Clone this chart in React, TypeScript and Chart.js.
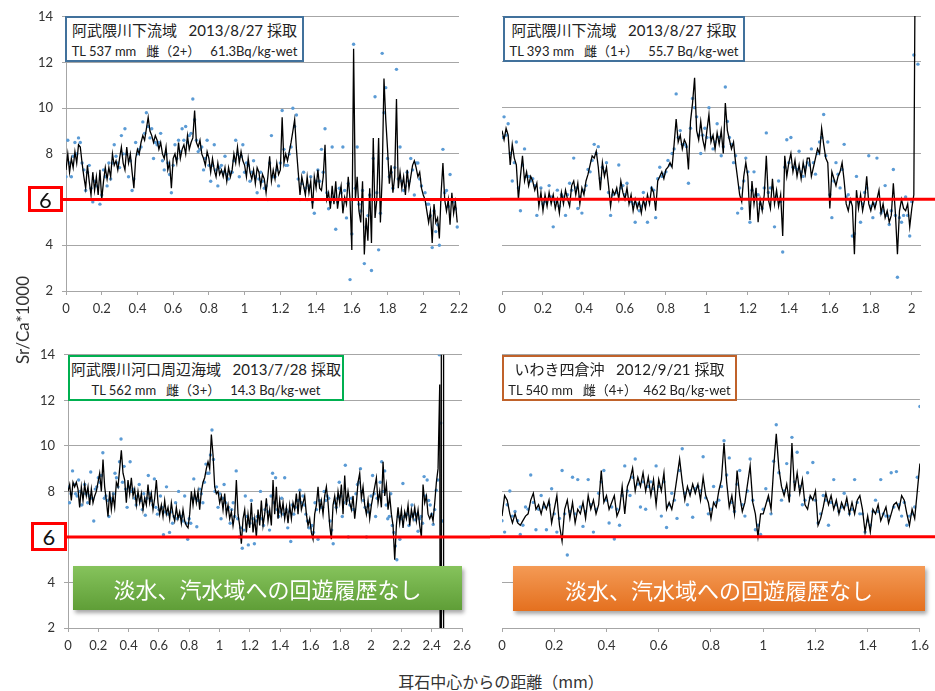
import React, { useEffect, useRef } from "react";
import { Chart, registerables } from "chart.js";

Chart.register(...registerables);

// ---------- shared axis values ----------
const Y_MIN = 2;
const Y_MAX = 14;
const Y_STEP = 2;
const X_TICK_STEP = 0.2;
const THRESHOLD = 6;
const DOT_X0 = 0.01;
const DOT_B_X0 = 0;
const DOT_STEP = 0.02;

// ---------- panel 1 : 阿武隈川下流域 TL 537 mm ----------
const P1_X_MAX = 2.2;
const P1_LINE_STEP = 0.01;
const P1_LINE = [
  7.3, 8.0, 7.2, 7.8, 7.4, 8.1, 7.6, 8.4, 8.3, 7.6,
  7.0, 6.5, 7.5, 6.8, 6.2, 7.2, 6.4, 7.0, 6.2, 7.3,
  6.0, 6.8, 7.4, 6.9, 7.4, 7.0, 8.0, 7.5, 7.7, 7.3,
  7.8, 8.3, 7.6, 7.3, 8.3, 7.6, 8.0, 7.2, 6.5, 7.8,
  8.2, 8.0, 8.5, 8.8, 8.6, 9.1, 9.6, 9.0, 8.8, 8.5,
  8.8, 8.6, 8.2, 8.5, 8.0, 7.8, 8.3, 7.3, 7.6, 6.5,
  7.8, 8.0, 7.6, 8.5, 7.8, 8.2, 8.4, 8.0, 8.8, 8.2,
  8.5, 8.7, 9.9, 8.5, 8.3, 8.6, 8.0, 7.8, 7.5, 8.1,
  7.8, 7.2, 7.8, 7.3, 7.0, 7.6, 7.1, 7.3, 7.0, 7.4,
  6.8, 7.4, 7.0, 7.3, 8.0, 7.6, 8.3, 7.6, 8.1, 7.7,
  7.5, 7.0, 7.8, 7.2, 6.9, 7.3, 6.7, 7.4, 7.2, 6.6,
  7.1, 6.9, 6.3, 7.0, 7.9, 6.8, 7.3, 6.9, 7.6, 7.1,
  7.3, 9.6, 7.6, 8.0, 7.7, 8.1, 8.5, 9.0, 9.5, 8.2,
  7.2, 6.2, 7.0, 6.6, 6.2, 7.0, 6.3, 6.8, 5.6, 7.0,
  6.5, 7.3, 6.5, 6.4, 7.0, 8.4, 6.0, 6.3, 5.6, 6.6,
  5.8, 6.8, 5.6, 6.2, 6.6, 5.4, 6.1, 5.8, 7.0, 6.0,
  3.8, 12.6, 6.0, 7.0, 5.5, 5.0, 6.8, 3.6, 5.2, 4.2,
  6.5, 4.1, 8.7, 5.2, 6.0, 8.7, 5.0, 7.0, 11.3, 9.5,
  8.2, 6.7, 7.5, 6.3, 7.0, 10.4, 6.5, 7.2, 6.5, 7.0,
  6.2, 7.3, 6.5, 7.0, 7.5, 7.7, 7.4, 7.0, 7.2, 6.5,
  6.2, 6.0, 5.5, 5.0, 5.5, 4.1, 5.8, 5.0, 5.2, 4.3,
  6.3, 7.6, 6.0, 5.5, 6.0, 4.9, 6.3, 5.4, 5.9, 5.0,
];
const P1_DOTS = [
  8.6, 7.0, 8.5, 8.7, 7.6, 6.4, 7.5, 5.9, 6.6, 5.8,
  7.3, 6.6, 6.9, 8.4, 7.6, 8.8, 9.1, 7.0, 6.4, 8.5,
  8.2, 9.4, 9.8, 8.7, 7.8, 8.4, 8.9, 7.3, 7.6, 6.3,
  8.4, 8.6, 9.1, 9.2, 8.8, 10.4, 8.6, 8.2, 7.3, 8.6,
  6.8, 8.4, 6.6, 7.5, 7.9, 6.9, 7.2, 8.6, 7.0, 8.4,
  7.6, 6.8, 7.7, 6.3, 7.2, 6.5, 6.0, 8.8, 7.0, 6.6,
  9.9, 7.5, 8.0, 10.0, 9.7, 6.0, 7.2, 6.0, 7.0, 5.4,
  7.3, 8.2, 9.1, 5.6, 8.3, 4.7, 6.5, 8.3, 5.2, 2.5,
  12.8, 8.3, 5.5, 3.2, 5.3, 2.9, 10.5, 3.8, 12.4, 10.9,
  7.0, 6.5, 11.7, 8.3, 6.4, 7.2, 7.8, 6.2, 7.6, 6.6,
  6.3, 5.8, 3.9, 4.6, 4.0, 8.2, 6.4, 7.1, 5.9, 4.8,
];
const P1_DOTS_B = [
  7.0, 7.6, 7.9, 8.0, 8.5, 7.3, 7.2, 6.5, 6.8, 6.0,
  6.2, 7.0, 7.6, 7.6, 7.9, 7.4, 8.0, 8.0, 7.7, 6.9,
  8.0, 8.3, 8.9, 9.2, 9.1, 8.5, 8.5, 7.7, 8.0, 7.1,
  7.5, 7.8, 8.1, 8.6, 8.5, 8.9, 9.5, 8.1, 8.3, 7.8,
  7.5, 7.5, 7.3, 7.4, 7.2, 7.1, 7.2, 7.7, 8.0, 7.9,
  7.2, 7.5, 7.2, 7.0, 6.9, 6.8, 6.6, 7.6, 7.0, 7.3,
  7.6, 8.2, 7.5, 8.3, 9.2, 6.9, 6.7, 6.5, 6.6, 5.9,
  6.8, 6.8, 7.2, 6.3, 5.9, 6.1, 5.9, 6.3, 6.4, 6.7,
  4.5, 6.5, 5.8, 6.4, 4.8, 6.2, 7.8, 6.3, 5.4, 9.8,
  7.8, 7.2, 7.4, 6.9, 6.8, 6.6, 6.8, 7.3, 7.6, 6.9,
  6.0, 5.8, 5.3, 5.5, 4.9, 6.0, 6.3, 5.7, 6.0, 5.6,
];

// ---------- panel 2 : 阿武隈川下流域 TL 393 mm ----------
const P2_X_MAX = 2.045;
const P2_LINE_STEP = 0.01;
const P2_LINE = [
  9.0, 8.6, 9.1, 8.8, 7.5, 8.4, 7.8, 7.5, 6.0, 7.0,
  7.9, 6.8, 7.2, 6.6, 7.0, 6.8, 6.4, 6.7, 5.7, 6.3,
  5.5, 6.2, 5.7, 6.3, 5.8, 6.2, 5.6, 6.0, 5.4, 6.3,
  5.8, 6.4, 6.0, 5.7, 6.6, 6.8, 6.2, 6.7, 5.8, 6.5,
  6.2, 6.8, 7.1, 7.5, 7.9, 7.8, 8.1, 7.4, 6.4, 7.6,
  7.0, 7.4, 6.6, 5.7, 6.4, 6.2, 6.5, 6.0, 6.8, 6.3,
  6.0, 6.5, 5.8, 6.2, 5.5, 6.0, 5.6, 5.9, 5.4, 6.0,
  5.6, 6.2, 5.8, 6.5, 6.3, 5.5, 6.8, 7.0, 7.2, 6.9,
  7.3, 7.4, 7.6, 7.4, 8.4, 9.5, 8.5, 8.8, 8.2, 8.6,
  8.4, 7.3, 9.4, 10.2, 11.3, 9.0, 8.6, 9.4, 8.6, 8.2,
  9.0, 9.7, 8.5, 8.8, 8.2, 8.9, 8.4, 9.0, 8.0, 10.2,
  9.0, 8.6, 8.2, 8.5, 7.6, 6.9, 6.2, 5.9, 7.0, 7.6,
  7.0, 5.1, 6.8, 5.8, 6.5, 5.0, 6.0, 5.5, 6.2, 7.9,
  6.0, 5.6, 6.9, 5.8, 6.4, 5.7, 6.2, 4.4, 7.9, 7.0,
  7.6, 8.0, 7.2, 7.7, 7.0, 7.5, 6.9, 7.6, 7.1, 7.8,
  7.8, 7.0, 7.4, 7.8, 8.2, 8.0, 9.1, 8.4, 7.8, 7.6,
  5.6, 7.2, 6.9, 6.6, 7.0, 7.2, 7.6, 6.8, 5.8, 5.5,
  6.0, 5.7, 3.6, 6.4, 5.6, 6.2, 5.5, 6.0, 7.0, 5.8,
  5.5, 5.9, 5.6, 6.0, 6.4, 5.4, 5.8, 5.2, 5.5, 5.0,
  5.3, 6.7, 5.4, 3.6, 5.5, 6.0, 5.6, 5.5, 5.8, 4.8,
  5.6, 6.2,
];
const P2_LINE_TAIL: [number, number][] = [[2.015, 14]];
const P2_DOTS = [
  9.6, 9.3, 6.8, 8.5, 5.5, 8.2, 7.0, 6.9, 5.3, 6.5,
  5.9, 6.6, 4.8, 6.4, 6.2, 5.3, 6.7, 7.8, 5.6, 5.4,
  6.6, 7.2, 8.4, 8.3, 7.4, 7.6, 5.3, 6.0, 7.5, 6.6,
  6.7, 5.9, 5.0, 5.5, 6.3, 5.0, 6.5, 5.2, 7.4, 7.1,
  7.7, 8.0, 10.6, 9.0, 8.4, 6.7, 10.4, 9.6, 8.0, 9.1,
  10.0, 8.2, 9.3, 7.9, 10.9, 8.7, 7.6, 5.4, 5.6, 7.8,
  5.0, 7.2, 6.2, 5.6, 8.9, 6.5, 4.8, 6.8, 3.7, 8.6,
  8.7, 7.4, 8.1, 7.0, 7.6, 8.2, 7.1, 8.5, 9.7, 8.5,
  5.2, 7.6, 6.5, 8.4, 6.2, 4.4, 7.0, 5.0, 6.3, 7.9,
  5.2, 7.8, 5.4, 6.6, 4.9, 7.3, 2.6, 5.0, 6.1, 4.4,
  12.3, 11.9,
];
const P2_DOTS_B = [
  8.7, 8.8, 8.0, 7.6, 6.5, 7.5, 7.0, 6.8, 6.6, 6.0,
  5.8, 6.0, 6.1, 5.9, 5.7, 6.1, 6.2, 6.4, 6.5, 6.1,
  6.4, 7.3, 7.7, 8.0, 6.9, 7.2, 6.3, 6.2, 6.3, 6.5,
  6.2, 6.0, 5.8, 5.8, 5.7, 5.8, 6.0, 6.4, 6.9, 7.0,
  7.2, 7.5, 8.2, 8.7, 8.4, 8.3, 9.1, 10.0, 8.8, 8.8,
  8.7, 8.7, 8.5, 8.7, 8.3, 9.4, 8.4, 7.9, 6.5, 6.8,
  7.2, 6.4, 6.2, 5.8, 6.5, 6.3, 6.5, 6.1, 5.9, 7.4,
  7.6, 7.4, 7.3, 7.2, 7.4, 7.5, 7.6, 8.0, 8.7, 7.9,
  6.2, 6.8, 7.1, 7.3, 6.1, 5.9, 4.5, 5.9, 5.8, 6.5,
  5.7, 5.8, 6.0, 5.5, 5.3, 5.5, 5.3, 5.2, 5.3, 5.3,
  5.9,
];

// ---------- panel 3 : 阿武隈川河口周辺海域 TL 562 mm ----------
const P3_X_MAX = 2.6;
const P3_LINE_STEP = 0.011;
const P3_LINE = [
  8.0, 8.3, 7.6, 8.4, 8.2, 8.4, 8.1, 7.3, 8.2, 7.6,
  8.3, 7.8, 8.2, 7.4, 8.1, 7.5, 7.8, 8.0, 8.4, 8.8,
  8.0, 9.4, 8.2, 7.6, 6.9, 8.0, 7.2, 7.8, 7.3, 8.4,
  8.2, 9.0, 9.8, 8.8, 8.5, 7.5, 8.5, 7.9, 8.6, 7.8,
  8.1, 7.4, 8.0, 7.5, 7.9, 7.2, 7.7, 7.4, 8.3, 7.5,
  7.9, 7.2, 7.7, 8.5, 7.5, 7.0, 7.4, 6.9, 7.6, 7.0,
  7.3, 6.8, 7.5, 7.0, 6.7, 7.3, 6.8, 7.1, 6.6, 7.2,
  6.7, 6.5, 6.4, 7.0, 8.0, 7.4, 8.0, 7.5, 8.0, 7.2,
  8.0, 8.4, 8.6, 9.0, 9.3, 9.0, 10.5, 9.6, 8.2, 7.9,
  8.0, 7.5, 7.8, 7.2, 7.9, 7.0, 7.4, 6.8, 7.1, 6.5,
  7.0, 8.5, 7.0, 6.5, 5.7, 6.8, 7.2, 6.2, 7.0, 6.4,
  7.5, 6.2, 6.8, 6.0, 7.2, 6.5, 7.6, 6.5,
  7.0, 7.7, 6.7, 7.2, 6.5, 8.5, 7.0, 8.2, 6.8, 7.6,
  7.0, 7.5, 6.8, 7.3, 6.6, 7.4, 6.8, 7.5, 7.2, 7.9,
  7.0, 8.0, 7.2, 7.5, 7.8, 7.0, 6.5, 6.8, 6.2, 5.9,
  7.0, 7.4, 8.2, 7.2, 7.6, 7.0, 7.8, 8.2, 7.5, 6.5,
  5.9, 7.4, 7.8, 7.2, 8.0, 7.5, 8.3, 7.0, 8.7, 7.4,
  8.0, 7.5, 7.2, 7.8, 6.8, 7.5, 8.4, 8.8, 7.7, 8.2,
  7.4, 7.0, 7.6, 6.8, 7.4, 7.8, 8.2, 8.6, 7.5, 8.0,
  7.3, 9.3, 7.8, 8.3, 7.2, 7.8, 7.0, 6.5, 5.0, 6.5,
  7.3, 6.6, 7.2, 6.4, 7.1, 6.8, 7.4, 6.5, 7.2, 6.8,
  7.3, 6.7, 7.2, 6.5, 6.0, 8.3, 7.5, 7.8, 7.0, 6.8,
  7.0, 6.7, 7.5, 8.4, 9.0,
];
const P3_LINE_TAIL: [number, number][] = [
  [2.453, 12.7], [2.463, -30], [2.4635, 40], [2.478, 40], [2.4785, -30],
];
const P3_DOTS = [
  7.5, 8.9, 7.9, 8.5, 7.4, 8.3, 7.5, 8.85, 6.7, 8.2,
  8.4, 9.7, 7.8, 6.9, 7.6, 8.8, 8.2, 10.3, 9.1, 7.3,
  9.3, 8.1, 7.4, 8.3, 7.2, 6.95, 8.7, 7.6, 8.55, 7.0,
  7.8, 6.1, 8.2, 6.2, 6.6, 7.5, 8.0, 6.9, 7.8, 5.9,
  6.6, 8.55, 6.45, 8.1, 7.5, 9.2, 8.8, 10.7, 8.0, 7.3,
  6.8, 8.3, 7.2, 6.6, 7.5, 8.9, 6.0, 5.5, 7.8, 5.65,
  7.6, 5.7, 6.9, 8.0, 6.5, 7.4, 6.3, 8.8, 8.6, 6.9,
  7.7, 8.6, 6.4, 5.8, 7.0, 7.6, 8.05, 7.8, 7.0, 6.4,
  6.5, 7.5, 5.9, 7.3, 8.0, 7.8, 6.7, 5.7, 7.3, 8.4,
  6.9, 9.15, 6.0, 7.7, 7.2, 8.3, 9.0, 7.6, 6.0, 7.4,
  8.7, 6.9, 7.8, 9.3, 8.9, 6.8, 7.9, 6.2, 5.0, 5.9,
  8.35, 7.0, 6.5, 7.4, 6.75, 6.25, 6.9, 8.65, 8.5, 7.4,
  6.55, 8.05, 14.0, 6.7,
];
const P3_DOTS_B = [
  8.2, 7.9, 8.3, 7.8, 8.0, 7.9, 7.9, 7.8, 7.7, 8.1,
  8.6, 8.7, 7.7, 7.6, 7.7, 7.9, 8.6, 9.3, 8.4, 8.1,
  8.2, 8.0, 7.7, 7.8, 7.6, 7.9, 7.7, 7.9, 7.4, 7.3,
  7.2, 7.3, 7.1, 7.0, 7.1, 6.9, 6.8, 6.9, 6.7, 6.6,
  6.8, 7.7, 7.7, 7.6, 7.9, 8.4, 8.8, 9.6, 9.4, 8.2,
  7.9, 7.7, 7.5, 7.3, 7.2, 6.9, 6.8, 6.4, 6.3, 6.9,
  6.6, 6.8, 6.7, 6.9, 6.8, 7.2, 7.1, 7.8, 7.5, 7.2,
  7.1, 7.0, 7.2, 7.1, 7.4, 7.3, 7.6, 7.5, 7.4, 6.7,
  6.4, 6.2, 7.2, 7.6, 7.3, 7.6, 7.7, 6.3, 7.5, 7.7,
  7.8, 7.5, 7.6, 7.4, 7.2, 7.9, 8.4, 8.0, 7.3, 7.1,
  7.8, 7.9, 7.7, 8.4, 8.0, 7.4, 6.9, 6.5, 5.6, 6.9,
  6.8, 6.9, 7.0, 6.9, 7.0, 7.0, 6.8, 6.6, 7.8, 7.6,
  7.0, 7.2, 8.5, 11.0,
];

// ---------- panel 4 : いわき四倉沖 TL 540 mm ----------
const P4_X_MAX = 1.6;
const P4_LINE_STEP = 0.01;
const P4_LINE = [
  6.9, 7.8, 7.6, 7.0, 6.6, 7.0, 6.6, 6.5, 6.7, 6.9,
  7.0, 7.6, 7.9, 7.2, 7.4, 7.0, 7.5, 7.2, 7.6, 6.6,
  7.2, 7.8, 6.5, 5.8, 7.2, 7.6, 6.8, 7.5, 6.6, 7.2,
  7.0, 7.5, 6.8, 7.8, 7.2, 7.6, 7.0, 7.4, 8.9, 7.5,
  7.8, 7.2, 7.5, 7.8, 6.9, 7.2, 8.2, 7.0, 8.2, 8.5,
  9.0, 8.0, 8.6, 8.2, 8.8, 8.0, 8.6, 7.8, 8.5, 7.4,
  8.5, 8.0, 8.8, 7.2, 7.5, 7.2, 7.8, 8.6, 9.4, 8.4,
  7.6, 8.2, 7.8, 8.3, 7.9, 8.3, 7.6, 8.6, 7.8, 7.5,
  6.8, 7.5, 7.3, 8.0, 8.5, 10.1, 8.4, 7.3, 7.8, 7.0,
  8.9, 7.8, 7.1, 7.5, 8.3, 9.1, 7.5, 7.0, 6.0, 7.0,
  7.0, 7.4, 7.8, 7.2, 9.0, 10.5, 9.0, 8.2, 7.8, 8.3,
  7.5, 10.1, 8.0, 8.8, 7.9, 8.5, 7.4, 7.2, 7.8, 7.6,
  8.0, 6.5, 6.8, 7.3, 7.9, 7.4, 7.8, 7.2, 7.6, 7.0,
  7.5, 7.2, 7.7, 7.0, 7.5, 7.0, 7.6, 7.8, 7.2, 6.2,
  6.9, 6.2, 7.2, 7.0, 7.4, 6.7, 7.0, 7.3, 6.6, 7.0,
  7.4, 7.5, 7.2, 7.8, 7.6, 7.0, 6.5, 7.2, 6.8, 8.0,
  9.2,
];
const P4_DOTS = [
  6.2, 8.0, 7.1, 6.1, 7.3, 8.7, 6.3, 7.8, 6.3, 8.1,
  6.2, 8.9, 5.2, 8.6, 8.5, 6.45, 8.5, 6.2, 7.9, 8.9,
  6.6, 5.9, 6.5, 9.1, 7.8, 9.4, 7.3, 7.2, 8.4, 9.1,
  6.9, 6.4, 7.9, 6.8, 9.85, 7.4, 6.85, 8.2, 9.5, 7.0,
  8.2, 7.6, 10.2, 9.45, 7.1, 8.9, 6.9, 9.4, 6.3, 6.1,
  8.1, 7.0, 10.9, 7.6, 9.2, 10.35, 9.7, 7.4, 8.8, 9.25,
  6.6, 7.8, 6.5, 8.5, 7.1, 7.9, 7.0, 8.5, 7.0, 6.2,
  6.5, 7.6, 8.5, 6.9, 8.8, 8.85, 6.9, 6.5, 7.0, 8.6,
];
const P4_DOTS_B = [
  6.7, 7.4, 6.9, 6.7, 6.5, 7.2, 7.5, 7.2, 7.3, 7.4,
  7.0, 6.8, 7.0, 7.1, 7.0, 7.3, 7.1, 7.4, 7.2, 8.4,
  7.6, 7.3, 7.2, 7.8, 8.0, 8.6, 8.3, 8.4, 8.2, 8.1,
  8.2, 8.4, 7.4, 7.6, 8.9, 7.9, 8.0, 8.1, 8.0, 7.7,
  7.2, 7.5, 8.2, 8.7, 7.5, 8.3, 7.4, 8.0, 7.6, 6.5,
  7.2, 7.6, 9.3, 8.8, 8.0, 7.8, 8.4, 8.2, 7.6, 7.7,
  7.6, 7.0, 7.6, 7.5, 7.4, 7.3, 7.4, 7.2, 7.5, 7.0,
  6.7, 7.1, 7.1, 7.0, 6.9, 7.3, 7.4, 7.5, 6.9, 7.3,
];
const P4_DOTS_EXTRA: [number, number][] = [[1.6, 11.7]];

// ---------- texts ----------
const Y_TITLE = "Sr/Ca*1000";
const X_TITLE = "耳石中心からの距離（mm）";
const BANNER_TEXT = "淡水、汽水域への回遊履歴なし";

type Pt = { x: number; y: number };
const stepped = (vals: number[], x0: number, step: number): Pt[] =>
  vals.map((y, i) => ({ x: Math.round((x0 + i * step) * 10000) / 10000, y }));
const pairs = (arr: [number, number][]): Pt[] => arr.map(([x, y]) => ({ x, y }));

const LATIN = "Lato, 'Noto Sans CJK JP', sans-serif";
const CJK = "'Noto Sans CJK JP', sans-serif";
const GRID = "#a6a6a6";
const TEXT = "#333333";

const thresholdPlugin = {
  id: "threshold",
  afterDatasetsDraw(chart: any, _a: any, opts: any) {
    const y = chart.scales.y.getPixelForValue(THRESHOLD);
    const ctx = chart.ctx;
    ctx.save();
    ctx.strokeStyle = "#ff0000";
    ctx.lineWidth = 3;
    ctx.beginPath();
    ctx.moveTo(opts.fromAxis ? chart.chartArea.left - 4 : 0, y);
    ctx.lineTo(chart.width, y);
    ctx.stroke();
    ctx.restore();
  },
};

type Rect = { l: number; r: number; t: number; b: number };
interface PanelProps {
  left: number;
  top: number;
  width: number;
  height: number;
  area: Rect;
  yLabels: boolean;
  xMax: number;
  line: Pt[];
  dots: Pt[];
}

function Panel(p: PanelProps) {
  const ref = useRef<HTMLCanvasElement>(null);
  useEffect(() => {
    if (!ref.current) return;
    const X_H = 30;
    const yW = p.yLabels ? p.area.l - p.left : 0;
    const chart = new Chart(ref.current, {
      type: "scatter",
      data: {
        datasets: [
          {
            data: p.line,
            showLine: true,
            borderColor: "#000000",
            borderWidth: 1.3,
            pointRadius: 0,
            order: 0,
          } as any,
          {
            data: p.dots,
            showLine: false,
            pointRadius: 1.7,
            pointBorderWidth: 0,
            backgroundColor: "#5b9bd5",
            order: 1,
          } as any,
        ],
      },
      options: {
        animation: false,
        responsive: false,
        devicePixelRatio: 1,
        layout: {
          padding: {
            left: p.yLabels ? 0 : p.area.l - p.left,
            right: p.left + p.width - p.area.r,
            top: p.area.t - p.top,
            bottom: p.top + p.height - p.area.b - X_H,
          },
        },
        plugins: {
          legend: { display: false },
          tooltip: { enabled: false },
          threshold: { fromAxis: p.yLabels },
        } as any,
        scales: {
          x: {
            type: "linear",
            min: 0,
            max: p.xMax,
            ticks: {
              stepSize: X_TICK_STEP,
              includeBounds: false,
              autoSkip: false,
              maxRotation: 0,
              padding: 6,
              color: TEXT,
              font: { family: LATIN, size: 13 },
              callback: (v: any) => String(Math.round(Number(v) * 10) / 10),
            },
            grid: { drawOnChartArea: false, drawTicks: true, tickLength: 4, color: GRID },
            border: { display: true, color: GRID },
            afterFit: (s: any) => {
              s.height = X_H;
            },
          },
          y: {
            type: "linear",
            min: Y_MIN,
            max: Y_MAX,
            ticks: {
              stepSize: Y_STEP,
              display: p.yLabels,
              padding: 9,
              color: TEXT,
              font: { family: LATIN, size: 13 },
            },
            grid: { color: GRID, drawTicks: p.yLabels, tickLength: p.yLabels ? 4 : 0 },
            border: { display: p.yLabels, color: GRID },
            afterFit: (s: any) => {
              s.width = yW;
            },
          },
        },
      } as any,
      plugins: [thresholdPlugin as any],
    });
    return () => chart.destroy();
  }, []);
  return (
    <canvas
      ref={ref}
      width={p.width}
      height={p.height}
      style={{ position: "absolute", left: p.left, top: p.top, width: p.width, height: p.height }}
    />
  );
}

function InfoBox(props: {
  left: number;
  top: number;
  width: number;
  color: string;
  line1: string;
  line2: string;
}) {
  return (
    <div
      style={{
        position: "absolute",
        left: props.left,
        top: props.top,
        width: props.width,
        height: 46,
        boxSizing: "border-box",
        border: `2px solid ${props.color}`,
        background: "#ffffff",
        fontFamily: LATIN,
        color: "#222",
        textAlign: "center",
        whiteSpace: "pre",
      }}
    >
      <div style={{ position: "absolute", left: 0, right: 0, top: 1, lineHeight: "22px", fontSize: 15 }}>
        {props.line1}
      </div>
      <div style={{ position: "absolute", left: 0, right: 0, top: 23, lineHeight: "20px", fontSize: 13 }}>
        {props.line2}
      </div>
    </div>
  );
}

function RedBox(props: { left: number; top: number; width: number; height: number }) {
  return (
    <div
      style={{
        position: "absolute",
        left: props.left,
        top: props.top,
        width: props.width,
        height: props.height,
        boxSizing: "border-box",
        border: "3px solid #ff0000",
        background: "#ffffff",
        fontFamily: LATIN,
        fontSize: 22,
        color: "#111",
        display: "flex",
        alignItems: "center",
        justifyContent: "center",
      }}
    >
      {String(THRESHOLD)}
    </div>
  );
}

function Banner(props: { left: number; top: number; width: number; height: number; from: string; to: string }) {
  return (
    <div
      style={{
        position: "absolute",
        left: props.left,
        top: props.top,
        width: props.width,
        height: props.height,
        background: `linear-gradient(${props.from}, ${props.to})`,
        boxShadow: "2px 3px 4px rgba(0,0,0,0.35)",
        color: "#ffffff",
        fontFamily: CJK,
        fontSize: 22,
        display: "flex",
        alignItems: "center",
        justifyContent: "center",
        whiteSpace: "nowrap",
      }}
    >
      {BANNER_TEXT}
    </div>
  );
}

export default function App() {
  const p1Line = stepped(P1_LINE, 0, P1_LINE_STEP);
  const p1Dots = stepped(P1_DOTS, DOT_X0, DOT_STEP).concat(stepped(P1_DOTS_B, DOT_B_X0, DOT_STEP));
  const p2Line = stepped(P2_LINE, 0, P2_LINE_STEP).concat(pairs(P2_LINE_TAIL));
  const p2Dots = stepped(P2_DOTS, DOT_X0, DOT_STEP).concat(stepped(P2_DOTS_B, DOT_B_X0, DOT_STEP));
  const p3Line = stepped(P3_LINE, 0, P3_LINE_STEP).concat(pairs(P3_LINE_TAIL));
  const p3Dots = stepped(P3_DOTS, DOT_X0, DOT_STEP).concat(stepped(P3_DOTS_B, DOT_B_X0, DOT_STEP));
  const p4Line = stepped(P4_LINE, 0, P4_LINE_STEP);
  const p4Dots = stepped(P4_DOTS, DOT_X0, DOT_STEP)
    .concat(stepped(P4_DOTS_B, DOT_B_X0, DOT_STEP))
    .concat(pairs(P4_DOTS_EXTRA));

  return (
    <div
      style={{
        position: "absolute",
        left: 0,
        top: 0,
        width: 935,
        height: 691,
        background: "#ffffff",
        overflow: "hidden",
      }}
    >
      <Panel left={0} top={0} width={490} height={330} area={{ l: 66, r: 459, t: 16, b: 291 }} yLabels={true} xMax={P1_X_MAX} line={p1Line} dots={p1Dots} />
      <Panel left={490} top={0} width={445} height={330} area={{ l: 502, r: 921, t: 16, b: 291 }} yLabels={false} xMax={P2_X_MAX} line={p2Line} dots={p2Dots} />
      <Panel left={0} top={338} width={490} height={330} area={{ l: 68, r: 462, t: 354, b: 628 }} yLabels={true} xMax={P3_X_MAX} line={p3Line} dots={p3Dots} />
      <Panel left={490} top={338} width={445} height={330} area={{ l: 502, r: 925, t: 354, b: 628 }} yLabels={false} xMax={P4_X_MAX} line={p4Line} dots={p4Dots} />

      <InfoBox left={65} top={16} width={239} color="#41719c" line1="阿武隈川下流域   2013/8/27 採取" line2="TL 537 mm   雌（2+）   61.3Bq/kg-wet" />
      <InfoBox left={503} top={16} width={242} color="#41719c" line1="阿武隈川下流域   2013/8/27 採取" line2="TL 393 mm   雌（1+）   55.7 Bq/kg-wet" />
      <InfoBox left={68} top={355} width={276} color="#00b050" line1="阿武隈川河口周辺海域   2013/7/28 採取" line2="TL 562 mm   雌（3+）   14.3 Bq/kg-wet" />
      <InfoBox left={502} top={355} width={235} color="#c0622a" line1="いわき四倉沖   2012/9/21 採取" line2="TL 540 mm   雌（4+）  462 Bq/kg-wet" />

      <RedBox left={28} top={186} width={35} height={26} />
      <RedBox left={31} top={522} width={36} height={29} />

      <Banner left={73} top={566} width={389} height={44} from="#86c35c" to="#5f9e37" />
      <Banner left={513} top={566} width={412} height={45} from="#f49a55" to="#e4701f" />

      <div
        style={{
          position: "absolute",
          left: 22,
          top: 320,
          transform: "translate(-50%, -50%) rotate(-90deg)",
          fontFamily: LATIN,
          fontSize: 17,
          color: TEXT,
          whiteSpace: "nowrap",
        }}
      >
        {Y_TITLE}
      </div>
      <div
        style={{
          position: "absolute",
          left: 501,
          top: 681,
          transform: "translate(-50%, -50%)",
          fontFamily: CJK,
          fontSize: 16,
          color: TEXT,
          whiteSpace: "nowrap",
        }}
      >
        {X_TITLE}
      </div>
    </div>
  );
}
